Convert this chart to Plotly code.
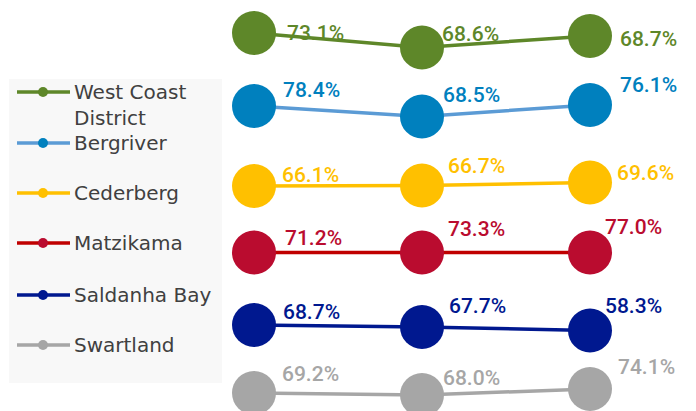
import plotly.graph_objects as go

# ---------------- data ----------------
periods = ["Period 1", "Period 2", "Period 3"]
series_names = ["West Coast District", "Bergriver", "Cederberg", "Matzikama", "Saldanha Bay", "Swartland"]
legend_labels = ["West Coast<br>District", "Bergriver", "Cederberg", "Matzikama", "Saldanha Bay", "Swartland"]

# displayed percentages
wcd_pct = [73.1, 68.6, 68.7]
berg_pct = [78.4, 68.5, 76.1]
ced_pct = [66.1, 66.7, 69.6]
matz_pct = [71.2, 73.3, 77.0]
sald_pct = [68.7, 67.7, 58.3]
swart_pct = [69.2, 68.0, 74.1]

# plotted level of each point (chart units)
wcd_level = [378, 363.5, 375]
berg_level = [305, 294.5, 306]
ced_level = [225, 225.5, 228.5]
matz_level = [158.5, 158.5, 158.5]
sald_level = [86, 84, 80.5]
swart_level = [18, 16, 22]

pcts = [wcd_pct, berg_pct, ced_pct, matz_pct, sald_pct, swart_pct]
levels = [wcd_level, berg_level, ced_level, matz_level, sald_level, swart_level]

# ---------------- styles ----------------
marker_colors = ["#5E8729", "#0080BE", "#FFC000", "#BA0C2F", "#00188F", "#A6A6A6"]
line_colors = ["#5E8729", "#5B9BD5", "#FFC000", "#C00000", "#00188F", "#A6A6A6"]
# label offsets in px (dx to left edge, dy up) per point
label_dx = [[33, 20, 30], [29, 21, 30], [28, 26, 27], [31, 26, 15], [29, 27, 15], [28, 21, 28]]
label_dy = [[0, 14, -3], [16, 22, 20], [11, 20, 10], [15, 24, 26], [13, 21, 25], [19, 17, 22]]

W, H = 696, 411
OFF = 8  # page body margin
x_px = [254 - OFF, 422 - OFF, 589.5 - OFF]
unit = (x_px[1] - x_px[0])
xr = [-x_px[0] / unit, (W - x_px[0]) / unit]

fig = go.Figure()
annotations = []
for i, name in enumerate(series_names):
    fig.add_trace(go.Scatter(
        x=list(range(len(periods))), y=levels[i], name=name, mode="lines+markers",
        line=dict(color=line_colors[i], width=3.5),
        marker=dict(color=marker_colors[i], size=44, line=dict(width=0)),
        showlegend=False, hoverinfo="skip"))
    for j, v in enumerate(pcts[i]):
        annotations.append(dict(
            x=j, y=levels[i][j], xref="x", yref="y", text=f"{v:.1f}%",
            showarrow=False, xanchor="left", yanchor="middle",
            xshift=label_dx[i][j] - 2, yshift=label_dy[i][j],
            font=dict(family="Roboto", size=21, color=marker_colors[i], weight=500)))

# manual legend (paper coordinates from page px)
def px_x(p):
    return (p - OFF) / W

def px_y(p):
    return 1 - (p - OFF) / H

shapes = []
# legend background
shapes.append(dict(type="rect", xref="paper", yref="paper", x0=px_x(9), x1=px_x(222),
                   y0=px_y(383), y1=px_y(79), fillcolor="#F8F8F8", line=dict(width=0), layer="below"))
legend_rows = [92, 143, 193, 243, 295, 345]
for i, lab in enumerate(legend_labels):
    yc = legend_rows[i]
    shapes.append(dict(type="line", xref="paper", yref="paper", x0=px_x(17), x1=px_x(70),
                       y0=px_y(yc), y1=px_y(yc), line=dict(color=line_colors[i], width=3.5)))
    shapes.append(dict(type="circle", xref="paper", yref="paper", x0=px_x(38), x1=px_x(48),
                       y0=px_y(yc + 5), y1=px_y(yc - 5), fillcolor=marker_colors[i], line=dict(width=0)))
    annotations.append(dict(x=px_x(72), y=px_y(yc - 14), xref="paper", yref="paper", text=lab,
                            showarrow=False, xanchor="left", yanchor="top", align="left",
                            font=dict(family="DejaVu Sans", size=20, color="#404040")))

fig.update_layout(
    width=W, height=H, margin=dict(l=0, r=0, t=0, b=0),
    paper_bgcolor="white", plot_bgcolor="white",
    xaxis=dict(range=xr, visible=False, fixedrange=True),
    yaxis=dict(range=[-OFF, H - OFF], visible=False, fixedrange=True),
    shapes=shapes, annotations=annotations, showlegend=False)

fig.write_html("out.html")
